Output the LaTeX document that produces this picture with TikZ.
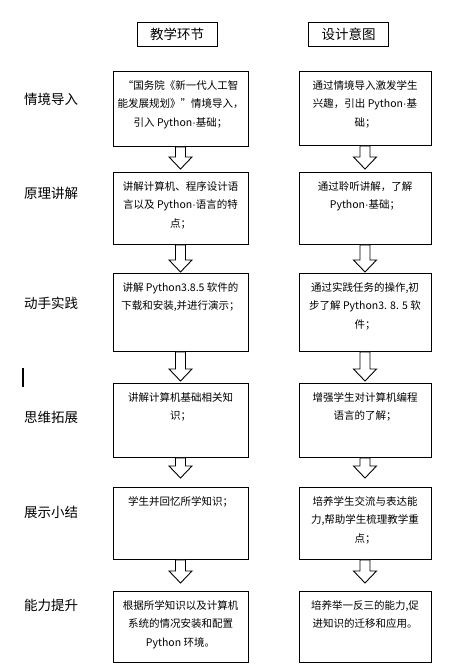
\documentclass[tikz,border=0pt]{standalone}
\usepackage{fontspec}
\setmainfont{Noto Sans CJK SC}
\newfontfamily\dotfont{Liberation Sans}
\newcommand{\spdot}{{\dotfont ·}}
\usepackage{tikz}
\usetikzlibrary{positioning, calc}

\tikzset{
  headbox/.style={draw, line width=0.9pt, minimum width=80pt, minimum height=24pt, inner sep=0pt, font=\fontsize{13.5pt}{16pt}\selectfont},
  stagebox/.style={draw, line width=0.9pt, anchor=north, inner sep=0pt},
  boxtext/.style={align=center, inner sep=3pt, font=\fontsize{10.5pt}{18.5pt}\selectfont},
  stagelabel/.style={font=\fontsize{13.5pt}{16pt}\selectfont},
  hollow/.style={draw, line width=0.9pt, fill=white, line join=miter}
}

\begin{document}
\begin{tikzpicture}[x=1pt, y=-1pt]
  \useasboundingbox (0,0) rectangle (451,669);

  % column heads
  \node[headbox] (headL) at (177,34) {教学环节};
  \node[headbox] (headR) at (348.5,34) {设计意图};

  % stage names
  \node[stagelabel] (s1) at (51,99) {情境导入};
  \node[stagelabel] (s2) at (51,193) {原理讲解};
  \node[stagelabel] (s3) at (51,303) {动手实践};
  \node[stagelabel] (s4) at (51,417) {思维拓展};
  \node[stagelabel] (s5) at (51,512) {展示小结};
  \node[stagelabel] (s6) at (51,605) {能力提升};
  \draw[line width=2pt] (23,368) -- (23,387);

  % boxes: left column
  \node[stagebox, minimum width=135pt, minimum height=75pt] (l1) at (180.5,71) {};
  \node[stagebox, minimum width=135pt, minimum height=72pt] (l2) at (180.5,172) {};
  \node[stagebox, minimum width=135pt, minimum height=78pt] (l3) at (180.5,273) {};
  \node[stagebox, minimum width=135pt, minimum height=74pt] (l4) at (180.5,383) {};
  \node[stagebox, minimum width=135pt, minimum height=72pt] (l5) at (180.5,487) {};
  \node[stagebox, minimum width=135pt, minimum height=71pt] (l6) at (180.5,591) {};

  % boxes: right column
  \node[stagebox, minimum width=132pt, minimum height=74pt] (r1) at (365,71) {};
  \node[stagebox, minimum width=132pt, minimum height=72pt] (r2) at (365,172) {};
  \node[stagebox, minimum width=132pt, minimum height=78pt] (r3) at (365,273) {};
  \node[stagebox, minimum width=132pt, minimum height=74pt] (r4) at (365,383) {};
  \node[stagebox, minimum width=132pt, minimum height=72pt] (r5) at (365,487) {};
  \node[stagebox, minimum width=132pt, minimum height=71pt] (r6) at (365,591) {};

  % texts
  \node[boxtext, below=6pt of l1.north] (tl1) {“国务院《新一代人工智\\能发展规划》”情境导入，\\引入 Python\spdot 基础；};
  \node[boxtext, below=6pt of l2.north] (tl2) {讲解计算机、程序设计语\\言以及 Python\spdot 语言的特\\点；};
  \node[boxtext, below=6pt of l3.north] (tl3) {讲解 Python3.8.5 软件的\\下载和安装,并进行演示；};
  \node[boxtext, below=6pt of l4.north] (tl4) {讲解计算机基础相关知\\识；};
  \node[boxtext, below=6pt of l5.north] (tl5) {学生并回忆所学知识；};
  \node[boxtext, below=6pt of l6.north] (tl6) {根据所学知识以及计算机\\系统的情况安装和配置\\Python 环境。};

  \node[boxtext, below=6pt of r1.north] (tr1) {通过情境导入激发学生\\兴趣，引出 Python\spdot 基\\础；};
  \node[boxtext, below=6pt of r2.north] (tr2) {通过聆听讲解，了解\\Python\spdot 基础；};
  \node[boxtext, below=6pt of r3.north] (tr3) {通过实践任务的操作,初\\步了解 Python3. 8. 5 软\\件；};
  \node[boxtext, below=6pt of r4.north] (tr4) {增强学生对计算机编程\\语言的了解；};
  \node[boxtext, below=6pt of r5.north] (tr5) {培养学生交流与表达能\\力,帮助学生梳理教学重\\点；};
  \node[boxtext, below=6pt of r6.north] (tr6) {培养举一反三的能力,促\\进知识的迁移和应用。};

  % hollow arrows between stages
  \foreach \a/\b/\g in {l1/l2/3, l2/l3/1, l3/l4/2, l4/l5/9, l5/l6/8,
                        r1/r2/3, r2/r3/1, r3/r4/2, r4/r5/9, r5/r6/8}
    \draw[hollow] ($(\a.south)+(-5,0)$) -- ($(\b.north)+(-5,-\g-12)$)
      -- ($(\b.north)+(-11.5,-\g-12)$) -- ($(\b.north)+(0,-\g)$)
      -- ($(\b.north)+(11.5,-\g-12)$) -- ($(\b.north)+(5,-\g-12)$)
      -- ($(\a.south)+(5,0)$) -- cycle;
\end{tikzpicture}
\end{document}
